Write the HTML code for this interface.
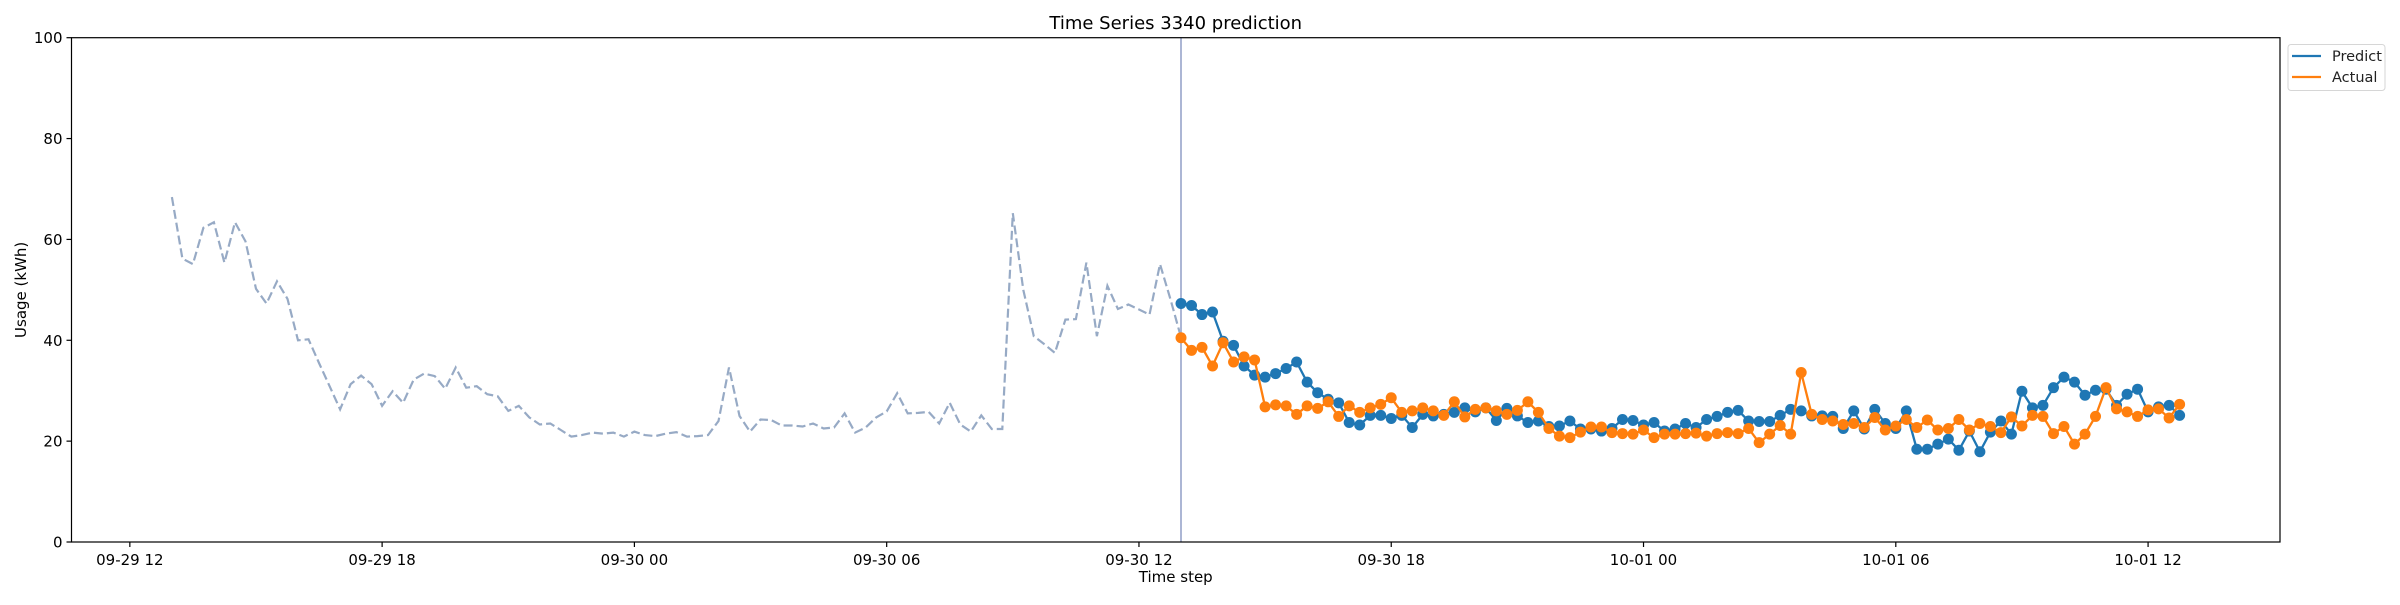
<!DOCTYPE html>
<html><head><meta charset="utf-8"><style>
html,body{margin:0;padding:0;background:#fff;}
svg text{font-family:"DejaVu Sans","Liberation Sans",sans-serif;}
</style></head><body>
<svg id="chart" width="2400" height="600" xmlns="http://www.w3.org/2000/svg"></svg>
<script>
const history = [68.4,56.2,55.1,62.3,63.4,55.4,63.4,59.6,50.2,47.3,51.7,48.2,40.0,40.2,35.5,30.9,26.3,31.3,33.0,31.3,27.0,29.9,27.6,32.2,33.4,32.9,30.4,34.6,30.6,30.9,29.3,28.9,26.0,27.0,24.7,23.3,23.5,22.2,20.9,21.2,21.7,21.5,21.7,20.9,21.9,21.2,21.0,21.5,21.8,
20.9,21.0,21.2,24.0,34.6,25.0,21.9,24.3,24.2,23.1,23.1,22.9,23.5,22.5,22.7,25.5,21.7,22.7,24.7,25.9,29.5,25.5,25.6,25.8,23.5,27.6,23.3,21.9,25.1,22.4,22.4,65.2,50.0,40.8,39.2,37.5,44.1,44.2,55.4,40.8,50.8,46.2,47.1,46.1,45.1,55.1,48.1,40.6];
const predict = [47.3,46.9,45.1,45.6,39.8,39.0,34.9,33.1,32.7,33.4,34.4,35.7,31.7,29.6,28.3,27.6,23.7,23.2,25.1,25.1,24.5,25.1,22.7,25.3,25.0,25.3,25.7,26.6,25.8,26.6,24.1,26.5,25.0,23.7,24.0,22.9,23.0,24.0,22.4,22.4,22.0,22.5,24.3,24.1,23.2,23.7,22.0,22.4,23.5,
22.7,24.3,24.9,25.7,26.1,24.0,23.9,23.9,25.1,26.3,26.0,25.0,25.0,24.9,22.5,26.0,22.4,26.3,23.5,22.5,26.0,18.4,18.4,19.4,20.4,18.2,22.0,17.9,21.8,24.0,21.4,29.9,26.6,27.1,30.6,32.7,31.7,29.1,30.1,30.3,27.1,29.3,30.3,25.8,26.8,27.1,25.1];
const actual = [40.5,38.0,38.6,34.9,39.5,35.7,36.7,36.1,26.8,27.2,27.0,25.3,27.0,26.5,27.8,24.9,27.0,25.7,26.6,27.3,28.6,25.7,26.0,26.6,26.0,25.1,27.8,24.8,26.3,26.6,26.0,25.3,26.1,27.8,25.7,22.5,21.0,20.7,21.8,22.8,22.8,21.7,21.5,21.4,22.2,20.7,21.4,21.4,21.5,
21.6,21.0,21.5,21.7,21.5,22.5,19.7,21.4,23.1,21.4,33.6,25.3,24.3,24.0,23.3,23.5,22.7,24.7,22.2,23.0,24.3,22.7,24.2,22.2,22.5,24.3,22.2,23.5,22.9,21.7,24.8,23.0,25.1,24.9,21.5,22.9,19.4,21.4,24.9,30.6,26.4,25.8,24.9,26.2,26.4,24.6,27.3];
const xTickLabels = ["09-29 12","09-29 18","09-30 00","09-30 06","09-30 12","09-30 18","10-01 00","10-01 06","10-01 12"];
const xTickHours = [0,6,12,18,24,30,36,42,48];
const yTicks = [0,20,40,60,80,100];
const historyStartHour = 1;   // 09-29 13:00
const stepHours = 0.25;
const splitHour = 25;         // 09-30 13:00

const L=71.5,R=2280,T=37.7,B=542;
const xMin=-1.3875,xMax=51.1375;
function xs(h){return L+(h-xMin)/(xMax-xMin)*(R-L);}
function ys(v){return B-v/100*(B-T);}
const NS="http://www.w3.org/2000/svg";
const svg=document.getElementById('chart');
function mk(tag,attrs,parent){const e=document.createElementNS(NS,tag);for(const k in attrs)e.setAttribute(k,attrs[k]);(parent||svg).appendChild(e);return e;}

// title
let t=mk('text',{x:(L+R)/2,y:29,'text-anchor':'middle','font-size':18,fill:'#000'});


t.textContent='Time Series 3340 prediction';

// ticks
yTicks.forEach(v=>{
  const y=ys(v);
  const ln=mk('line',{x1:L-5,x2:L,y1:y,y2:y,stroke:'#000','stroke-width':1.2});
  
  
  const tx=mk('text',{x:L-9,y:y+5.5,'text-anchor':'end','font-size':15,fill:'#000'});
  
  
  tx.textContent=v;
});
xTickHours.forEach((h,i)=>{
  const x=xs(h);
  const ln=mk('line',{x1:x,x2:x,y1:B,y2:B+5,stroke:'#000','stroke-width':1.2});
  
  
  const tx=mk('text',{x:x,y:B+23,'text-anchor':'middle','font-size':15,fill:'#000'});
  
  
  tx.textContent=xTickLabels[i];
});
let xl=mk('text',{x:(L+R)/2,y:582,'text-anchor':'middle','font-size':15,fill:'#000'});


xl.textContent='Time step';
let yl=mk('text',{x:0,y:0,'text-anchor':'middle','font-size':15,fill:'#000',transform:'translate(26,'+((T+B)/2)+') rotate(-90)'});


yl.textContent='Usage (kWh)';

// history dashed
const hp=history.map((v,i)=>xs(historyStartHour+i*stepHours).toFixed(1)+','+ys(v).toFixed(1)).join(' ');
let hl=mk('polyline',{points:hp,fill:'none',stroke:'#97aac5','stroke-width':2.2,'stroke-dasharray':'9,4'});



// split line
let sl=mk('line',{x1:xs(splitHour),x2:xs(splitHour),y1:T,y2:B,stroke:'#a3aed0','stroke-width':1.8});



function series(data,color,name){
  const g=mk('g',{});
  
  
  const pts=data.map((v,i)=>xs(splitHour+i*stepHours).toFixed(1)+','+ys(v).toFixed(1)).join(' ');
  const pl=mk('polyline',{points:pts,fill:'none',stroke:color,'stroke-width':2.3},g);
  
  
  data.forEach((v,i)=>{
    const c=mk('circle',{cx:xs(splitHour+i*stepHours),cy:ys(v),r:5.5,fill:color},g);
    
    
  });
}
series(predict,'#1f77b4','predict');
series(actual,'#ff7f0e','actual');

// frame
let fr=mk('rect',{x:L,y:T,width:R-L,height:B-T,fill:'none',stroke:'#000','stroke-width':1.2});



// legend
const lg=mk('g',{});


mk('rect',{x:2288,y:44.5,width:97,height:46,rx:3,fill:'#fff',stroke:'#d6d6d6','stroke-width':1},lg);
[['Predict','#1f77b4',56],['Actual','#ff7f0e',77]].forEach(([n,c,y])=>{
  const ln=mk('line',{x1:2292,x2:2321,y1:y,y2:y,stroke:c,'stroke-width':2.3},lg);
  
  
  const tx=mk('text',{x:2332,y:y+5,'font-size':14.5,fill:'#222'},lg);
  
  
  tx.textContent=n;
});
</script>
</body></html>
